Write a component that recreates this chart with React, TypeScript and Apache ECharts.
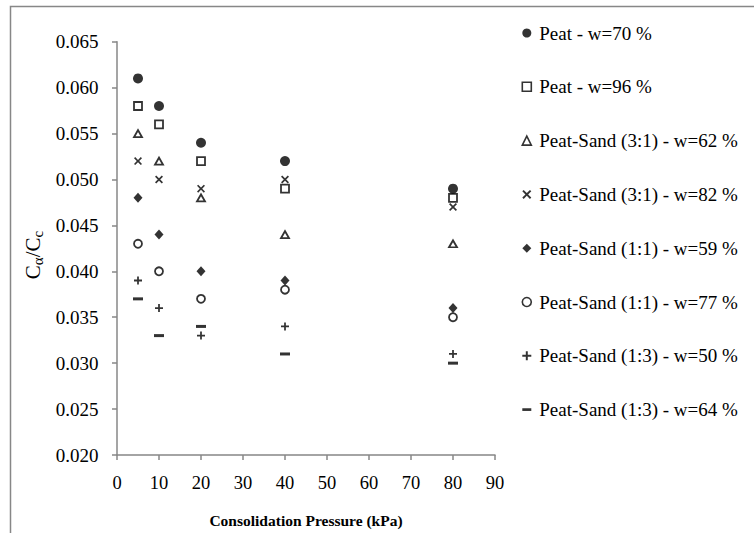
import React, { useEffect, useRef } from "react";
import * as echarts from "echarts";

const pressures = [5, 10, 20, 40, 80];
const xTicks = [0, 10, 20, 30, 40, 50, 60, 70, 80, 90];

const seriesNames = [
  "Peat - w=70 %",
  "Peat - w=96 %",
  "Peat-Sand (3:1) - w=62 %",
  "Peat-Sand (3:1) - w=82 %",
  "Peat-Sand (1:1) - w=59 %",
  "Peat-Sand (1:1) - w=77 %",
  "Peat-Sand (1:3) - w=50 %",
  "Peat-Sand (1:3) - w=64 %",
];

const peat70 = [0.061, 0.058, 0.054, 0.052, 0.049];
const peat96 = [0.058, 0.056, 0.052, 0.049, 0.048];
const ps31w62 = [0.055, 0.052, 0.048, 0.044, 0.043];
const ps31w82 = [0.052, 0.05, 0.049, 0.05, 0.047];
const ps11w59 = [0.048, 0.044, 0.04, 0.039, 0.036];
const ps11w77 = [0.043, 0.04, 0.037, 0.038, 0.035];
const ps13w50 = [0.039, 0.036, 0.033, 0.034, 0.031];
const ps13w64 = [0.037, 0.033, 0.034, 0.031, 0.03];

const seriesValues = [peat70, peat96, ps31w62, ps31w82, ps11w59, ps11w77, ps13w50, ps13w64];

const FONT = "Liberation Serif";

const xPath =
  "path://M0 1.5 L1.5 0 L5 3.5 L8.5 0 L10 1.5 L6.5 5 L10 8.5 L8.5 10 L5 6.5 L1.5 10 L0 8.5 L3.5 5 Z";
const plusPath = "path://M3.9 0 H6.1 V3.9 H10 V6.1 H6.1 V10 H3.9 V6.1 H0 V3.9 H3.9 Z";
const dashPath = "path://M0 0 H10 V3 H0 Z";

const styles: any[] = [
  { symbol: "circle", symbolSize: 10, itemStyle: { color: "#000" } },
  { symbol: "rect", symbolSize: 8, itemStyle: { color: "#fff", borderColor: "#000", borderWidth: 1.8 } },
  { symbol: "triangle", symbolSize: [8, 7], itemStyle: { color: "#fff", borderColor: "#000", borderWidth: 1.8 } },
  { symbol: xPath, symbolSize: 8, itemStyle: { color: "#000" } },
  { symbol: "diamond", symbolSize: [9, 10], itemStyle: { color: "#000" } },
  { symbol: "circle", symbolSize: 8, itemStyle: { color: "#fff", borderColor: "#000", borderWidth: 1.8 } },
  { symbol: plusPath, symbolSize: 8, itemStyle: { color: "#000" } },
  { symbol: dashPath, symbolSize: [10, 3], itemStyle: { color: "#000" } },
];

export default function App() {
  const ref = useRef<HTMLDivElement>(null);
  useEffect(() => {
    if (!ref.current) return;
    const chart = echarts.init(ref.current, null, { renderer: "svg" });
    const series = seriesNames.map((name, i) => ({
      name,
      type: "scatter",
      symbol: styles[i].symbol,
      symbolSize: styles[i].symbolSize,
      itemStyle: styles[i].itemStyle,
      data: pressures.map((p, j) => [p, seriesValues[i][j]]),
      z: 10 - i,
    }));
    const legendData = seriesNames.map((name, i) => {
      const st = styles[i];
      const item: any = { name };
      if (i === 7) item.icon = dashPath;
      if (st.itemStyle.borderColor) {
        item.itemStyle = { color: "#fff", borderColor: "#000", borderWidth: 1.6 };
      } else {
        item.itemStyle = { color: "#000", borderWidth: 0 };
      }
      return item;
    });
    chart.setOption({
      animation: false,
      backgroundColor: "#fff",
      graphic: [
        {
          type: "rect",
          shape: { x: 10.5, y: 6.5, width: 800, height: 600 },
          style: { fill: "none", stroke: "#878787", lineWidth: 1.5 },
          silent: true,
        },
        {
          type: "text",
          x: 33,
          y: 255,
          rotation: Math.PI / 2,
          silent: true,
          style: {
            text: "{a|C}{s|α}{a|/C}{s|c}",
            align: "center",
            verticalAlign: "middle",
            fill: "#000",
            rich: {
              a: { fontFamily: FONT, fontSize: 21, lineHeight: 24, verticalAlign: "middle", fill: "#000" },
              s: { fontFamily: FONT, fontSize: 15, lineHeight: 24, verticalAlign: "bottom", fill: "#000" },
            },
          },
        },
      ],
      grid: { left: 117, right: 259, top: 41.7, bottom: 78, containLabel: false },
      legend: {
        orient: "vertical",
        left: 516.5,
        top: 18.5,
        itemWidth: 9,
        itemHeight: 9,
        itemGap: 34.8,
        data: legendData,
        selectedMode: false,
        textStyle: { fontFamily: FONT, fontSize: 19, color: "#000", padding: [0, 0, 0, 3] },
      },
      xAxis: {
        type: "value",
        min: 0,
        max: 90,
        interval: 10,
        splitLine: { show: false },
        axisLine: { lineStyle: { color: "#878787", width: 1.5 } },
        axisTick: { length: 5, lineStyle: { color: "#878787", width: 1.5 } },
        axisLabel: {
          margin: 18,
          fontFamily: FONT,
          fontSize: 18.5,
          color: "#000",
          customValues: xTicks,
          formatter: (v: number) => String(v),
        },
        name: "Consolidation Pressure (kPa)",
        nameLocation: "middle",
        nameGap: 57,
        nameTextStyle: { fontFamily: FONT, fontSize: 15.5, fontWeight: "bold", color: "#000" },
      },
      yAxis: {
        type: "value",
        min: 0.02,
        max: 0.065,
        interval: 0.005,
        splitLine: { show: false },
        axisLine: { show: true, lineStyle: { color: "#878787", width: 1.5 } },
        axisTick: { show: true, length: 5, lineStyle: { color: "#878787", width: 1.5 } },
        axisLabel: {
          margin: 18.5,
          fontFamily: FONT,
          fontSize: 19,
          color: "#000",
          formatter: (v: number) => v.toFixed(3),
        },
      },
      series,
    });
    return () => chart.dispose();
  }, []);
  return (
    <div
      ref={ref}
      style={{ position: "fixed", left: 0, top: 0, width: 754, height: 533 }}
    />
  );
}
